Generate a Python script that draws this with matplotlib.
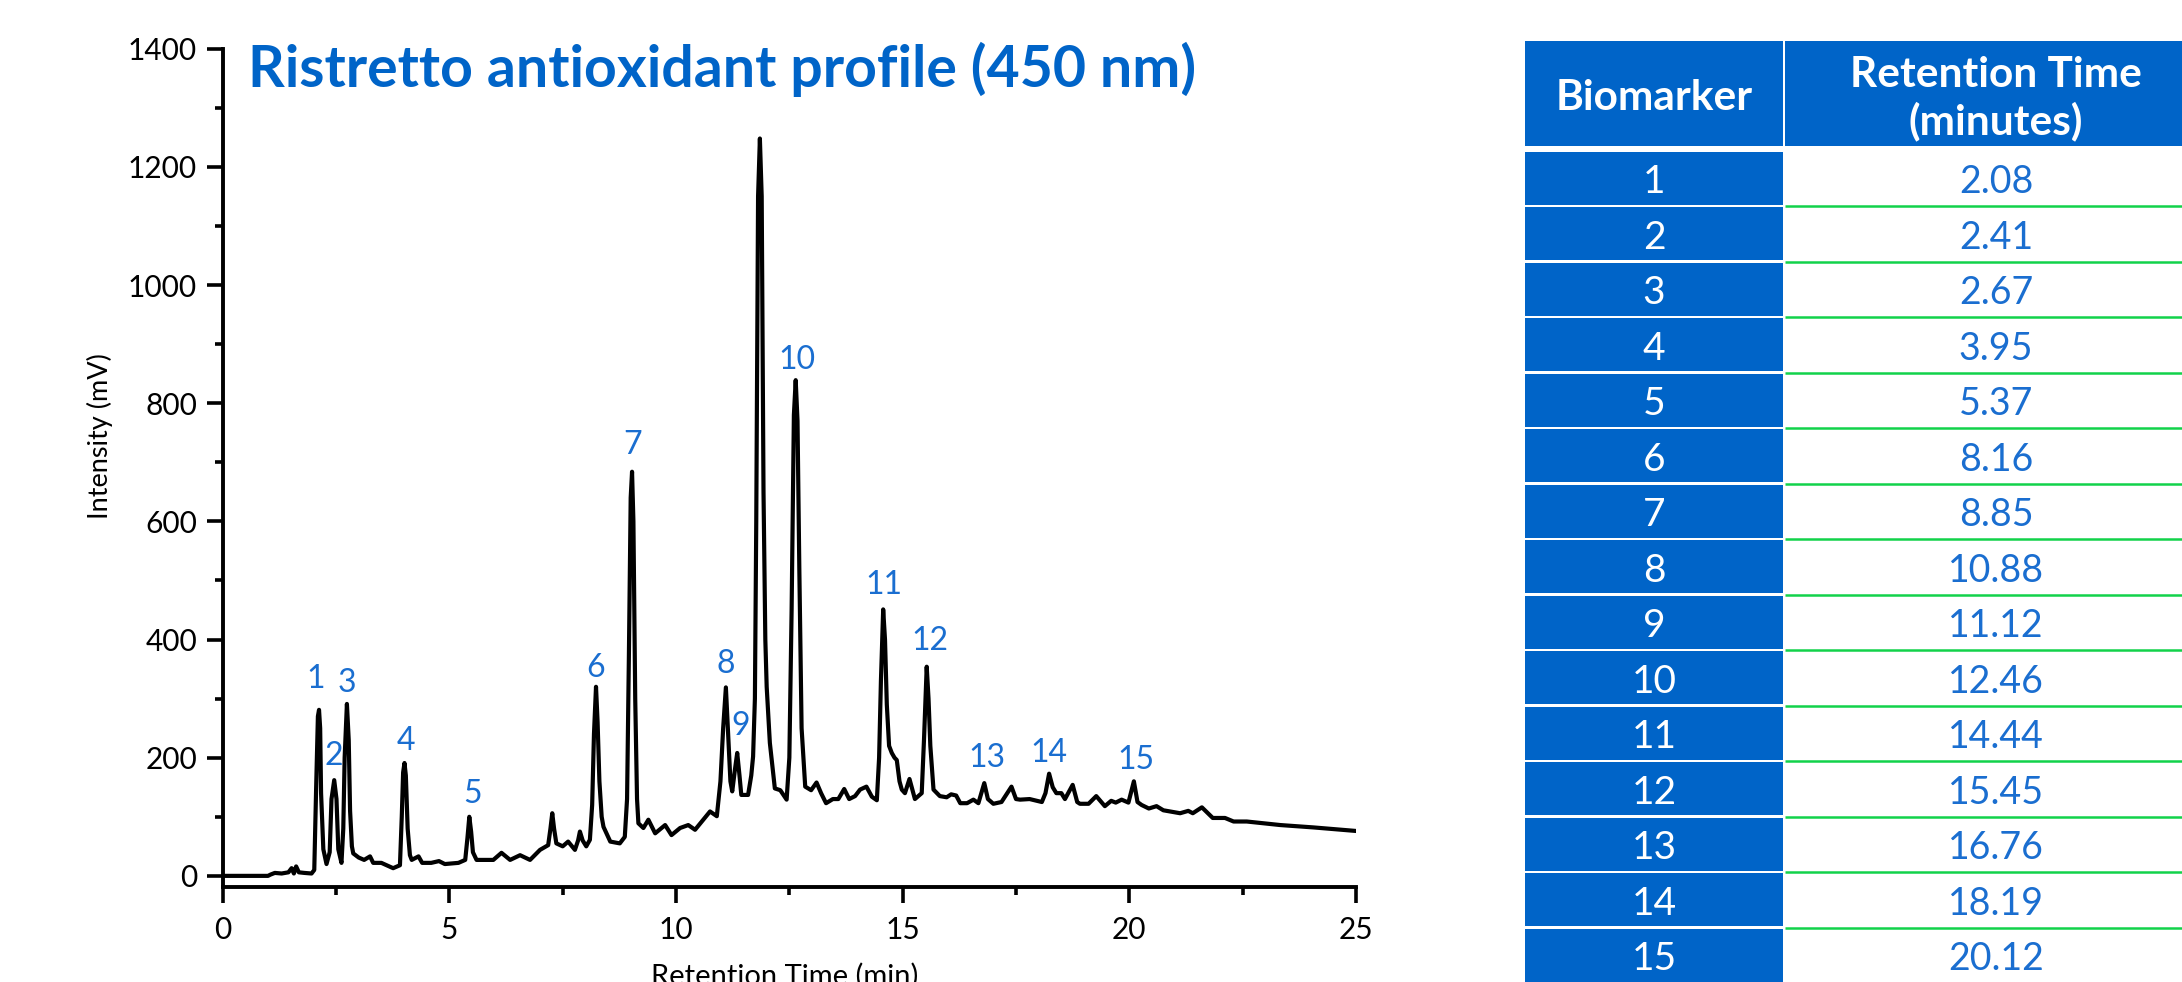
import matplotlib
matplotlib.use('Agg')
import matplotlib.pyplot as plt
from matplotlib.patches import Rectangle
from matplotlib.ticker import MultipleLocator

plt.rcParams['font.family'] = ['Lato', 'DejaVu Sans']

# chromatogram trace (min, mV)
time = [0.00, 1.00, 1.05, 1.15, 1.30, 1.45, 1.52, 1.57, 1.62, 1.68, 1.80, 1.96,
        2.02, 2.06, 2.10, 2.125, 2.15, 2.17, 2.22, 2.29, 2.36, 2.40, 2.46, 2.51,
        2.55, 2.62, 2.66, 2.69, 2.74, 2.78, 2.81, 2.85, 2.88, 3.00, 3.12, 3.25,
        3.32, 3.50, 3.76, 3.91, 3.95, 3.98, 4.01, 4.04, 4.08, 4.13, 4.17, 4.32,
        4.40, 4.60, 4.77, 4.90, 5.20, 5.35, 5.40, 5.44, 5.48, 5.52, 5.60, 5.97,
        6.15, 6.34, 6.56, 6.78, 7.00, 7.18, 7.23, 7.27, 7.31, 7.36, 7.50, 7.62,
        7.77, 7.84, 7.88, 7.94, 8.02, 8.10, 8.15, 8.19, 8.235, 8.27, 8.31, 8.36,
        8.40, 8.55, 8.76, 8.87, 8.92, 8.96, 9.00, 9.03, 9.06, 9.10, 9.14, 9.17,
        9.28, 9.39, 9.54, 9.76, 9.90, 10.09, 10.27, 10.42, 10.60, 10.75, 10.90,
        10.98, 11.04, 11.10, 11.15, 11.20, 11.24, 11.30, 11.35, 11.40, 11.44,
        11.59, 11.66, 11.70, 11.74, 11.77, 11.81, 11.85, 11.89, 11.93, 11.97,
        12.00, 12.07, 12.18, 12.30, 12.44, 12.50, 12.55, 12.60, 12.64, 12.68,
        12.72, 12.77, 12.85, 12.98, 13.10, 13.20, 13.31, 13.46, 13.58, 13.71,
        13.82, 13.95, 14.06, 14.20, 14.32, 14.43, 14.48, 14.52, 14.57, 14.61,
        14.65, 14.70, 14.76, 14.82, 14.87, 14.93, 14.98, 15.05, 15.15, 15.27,
        15.42, 15.47, 15.53, 15.57, 15.61, 15.68, 15.82, 15.97, 16.07, 16.18,
        16.27, 16.42, 16.56, 16.67, 16.80, 16.88, 17.00, 17.18, 17.40, 17.50,
        17.59, 17.80, 18.07, 18.15, 18.23, 18.31, 18.39, 18.50, 18.58, 18.75,
        18.85, 18.91, 19.10, 19.27, 19.46, 19.60, 19.70, 19.83, 19.98, 20.10,
        20.18, 20.27, 20.43, 20.60, 20.75, 21.12, 21.30, 21.40, 21.60, 21.84,
        22.11, 22.30, 22.59, 23.33, 24.06, 25.00]
intensity = [0, 0, 2, 5, 4, 6, 13, 4, 16, 6, 5, 4,
             10, 145, 270, 281, 250, 140, 45, 20, 40, 130, 162, 130,
             45, 22, 80, 200, 291, 230, 110, 50, 38, 31, 27, 33,
             22, 22, 13, 18, 100, 175, 191, 170, 80, 35, 27, 33,
             22, 22, 25, 20, 22, 27, 65, 100, 75, 40, 27, 27,
             39, 27, 35, 27, 44, 52, 80, 106, 80, 55, 50, 58,
             44, 60, 75, 60, 50, 61, 120, 240, 320, 260, 160, 100,
             83, 58, 55, 66, 130, 370, 640, 684, 600, 300, 130, 89,
             81, 95, 72, 86, 69, 81, 86, 78, 95, 109, 101,
             160, 250, 319, 240, 160, 143, 180, 208, 170, 137,
             137, 170, 202, 300, 600, 1150, 1248, 1150, 650, 400,
             320, 225, 148, 145, 129, 200, 450, 780, 839, 770,
             520, 250, 151, 145, 158, 140, 123, 130, 130, 147,
             130, 135, 146, 151, 134, 128, 200, 330, 451, 400,
             290, 220, 208, 200, 196, 160, 146, 140, 164, 130,
             140, 230, 354, 300, 220, 146, 135, 133, 138, 136,
             123, 123, 129, 123, 157, 130, 122, 125, 151, 130,
             129, 130, 125, 140, 173, 150, 140, 140, 130, 154,
             125, 122, 122, 135, 118, 127, 124, 129, 124, 160,
             125, 120, 114, 118, 111, 106, 110, 106, 116, 98,
             98, 92, 92, 86, 82, 76]

# peak labels and where they sit
peak_ids = [str(i) for i in range(1, 16)]
label_x = [2.05, 2.44, 2.73, 4.04, 5.51, 8.23, 9.05, 11.10, 11.42, 12.67,
           14.58, 15.60, 16.85, 18.23, 20.14]
label_y = [333, 203, 327, 229, 139, 352, 729, 359, 254, 873,
           493, 397, 199, 208, 196]

# table contents
biomarkers = [str(i) for i in range(1, 16)]
retention = ['2.08', '2.41', '2.67', '3.95', '5.37', '8.16', '8.85', '10.88',
             '11.12', '12.46', '14.44', '15.45', '16.76', '18.19', '20.12']

BLUE = '#0064C8'
LABEL_BLUE = '#1A6ED0'
GREEN = '#12D24A'

W, H = 2182, 982
fig = plt.figure(figsize=(W / 100, H / 100), dpi=100)

# ---- table, drawn in pixel coordinates ----
tab = fig.add_axes([0, 0, 1, 1])
tab.set_xlim(0, W)
tab.set_ylim(H, 0)
tab.axis('off')

lx0, lx1, rx0, rx1 = 1525, 1783, 1785, W + 50
hy0, hy1 = 40.7, 146
row0, row_h = 150.5, 55.5

tab.add_patch(Rectangle((lx0, hy0), lx1 - lx0, hy1 - hy0, color=BLUE, lw=0))
tab.add_patch(Rectangle((rx0, hy0), rx1 - rx0, hy1 - hy0, color=BLUE, lw=0))
tab.text((lx0 + lx1) / 2, 110, 'Biomarker', color='white',
         fontsize=30.5, fontweight='bold', ha='center', va='baseline')
tab.text(1996, 87, 'Retention Time', color='white',
         fontsize=30.5, fontweight='bold', ha='center', va='baseline')
tab.text(1996, 134, '(minutes)', color='white',
         fontsize=30.5, fontweight='bold', ha='center', va='baseline')

for k, (b, r) in enumerate(zip(biomarkers, retention)):
    top = row0 + k * row_h
    tab.add_patch(Rectangle((lx0, top + 1.3), lx1 - lx0, row_h - 2.6,
                            color=BLUE, lw=0))
    if k > 0:
        tab.plot([rx0, rx1], [top, top], color=GREEN, lw=1.8,
                 solid_capstyle='butt')
    base = top + row_h / 2 + 15
    tab.text((lx0 + lx1) / 2, base, b, color='white', fontsize=28,
             ha='center', va='baseline')
    tab.text(1996, base, r, color=LABEL_BLUE, fontsize=27,
             ha='center', va='baseline')

# ---- chromatogram ----
ax = fig.add_axes([222.7 / W, 1 - 886.5 / H, (1356 - 222.7) / W,
                   (886.5 - 48.7) / H])
ax.patch.set_alpha(0)
ax.plot(time, intensity, color='black', lw=3, solid_joinstyle='round')

for pid, x, y in zip(peak_ids, label_x, label_y):
    ax.text(x, y, pid, color=LABEL_BLUE, fontsize=23,
            ha='center', va='center')

ax.set_xlim(0, 25)
ax.set_ylim(-18, 1400)
ax.xaxis.set_major_locator(MultipleLocator(5))
ax.xaxis.set_minor_locator(MultipleLocator(2.5))
ax.yaxis.set_major_locator(MultipleLocator(200))
ax.yaxis.set_minor_locator(MultipleLocator(100))
for s in ['top', 'right']:
    ax.spines[s].set_visible(False)
for s in ['left', 'bottom']:
    ax.spines[s].set_linewidth(2.8)
ax.tick_params(which='major', direction='out', length=11.5, width=2.6,
               labelsize=21.5)
ax.tick_params(axis='x', which='major', pad=10)
ax.tick_params(axis='y', which='major', pad=7)
ax.tick_params(which='minor', direction='out', length=6, width=2.6)

ax.text(0.022, 0.954, 'Ristretto antioxidant profile (450 nm)',
        transform=ax.transAxes, color=BLUE, fontsize=41.2, fontweight='bold',
        ha='left', va='baseline')

fig.text(100 / W, 1 - 436 / H, 'Intensity (mV)', rotation=90, fontsize=19.5,
         ha='center', va='center')
fig.text(785 / W, 1 - 985 / H, 'Retention Time (min)', fontsize=21,
         ha='center', va='baseline')

fig.savefig('out.png', dpi=100)
